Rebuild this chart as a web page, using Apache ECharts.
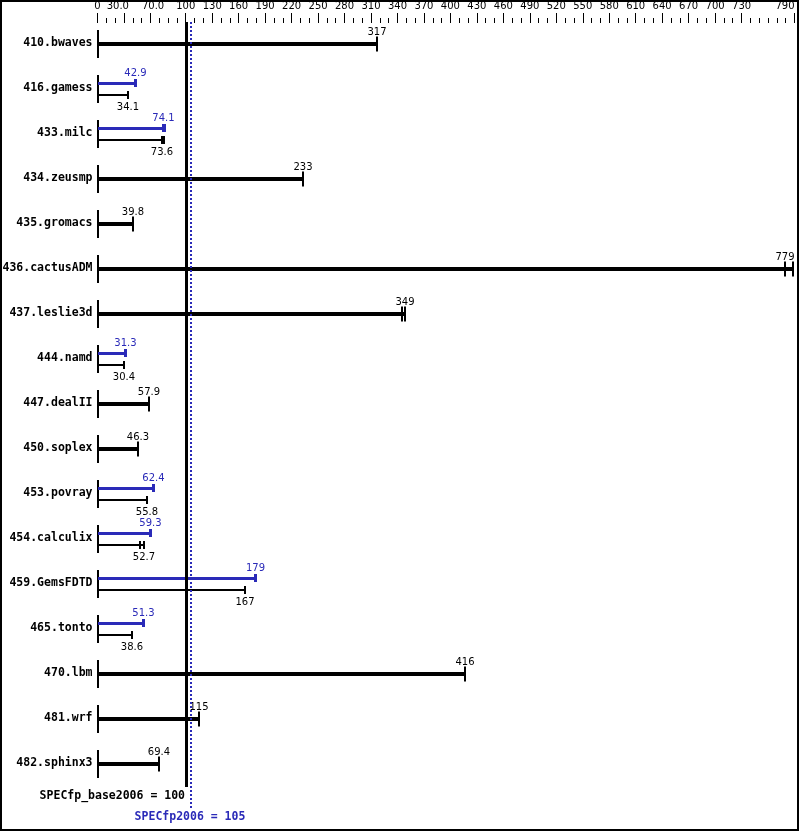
<!DOCTYPE html>
<html>
<head>
<meta charset="utf-8">
<script src="https://cdn.jsdelivr.net/npm/echarts@6/dist/echarts.min.js"></script>
<style>
html,body{margin:0;padding:0;background:#fff;}
#chart{width:799px;height:831px;}
</style>
</head>
<body>
<div id="chart"></div>
<script>
// ---- data ----
const categories = ['410.bwaves','416.gamess','433.milc','434.zeusmp','435.gromacs','436.cactusADM','437.leslie3d','444.namd','447.dealII','450.soplex','453.povray','454.calculix','459.GemsFDTD','465.tonto','470.lbm','481.wrf','482.sphinx3'];
const baseValues = [317, 34.1, 73.6, 233, 39.8, 779, 349, 30.4, 57.9, 46.3, 55.8, 52.7, 167, 38.6, 416, 115, 69.4];
const peakValues = [null, 42.9, 74.1, null, null, null, null, 31.3, null, null, 62.4, 59.3, 179, 51.3, null, null, null];
// other run results drawn as extra end ticks
const baseOtherRuns = [null, null, 75.9, null, null, 788, 345, null, null, null, null, 48.1, null, null, null, null, null];
const peakOtherRuns = [null, null, 76.6, null, null, null, null, null, null, null, null, null, null, null, null, null, null];
const baseScore = 100;
const peakScore = 105;
const tallTickValues = [0,30,60,100,130,160,190,220,250,280,310,340,370,400,430,460,490,520,550,580,610,640,670,700,730,790];
const tickLabelValues = [0,23,63,100,130,160,190,220,250,280,310,340,370,400,430,460,490,520,550,580,610,640,670,700,730,790];
const tickLabelTexts  = ['0','30.0','70.0','100','130','160','190','220','250','280','310','340','370','400','430','460','490','520','550','580','610','640','670','700','730','790'];

const BLACK = '#000000';
const BLUE = '#2a2ab8';
const valueFont = 'DejaVu Sans';
const monoFont = 'DejaVu Sans Mono';

function fmt(v){ return String(v); }

function renderRow(params, api) {
  const i = params.dataIndex;
  const base = baseValues[i];
  const peak = peakValues[i];
  const p0 = api.coord([0, i]);
  const x0 = Math.round(p0[0]);
  const cy = Math.round(p0[1]);
  const xOf = v => Math.round(api.coord([v, i])[0]);
  const kids = [];
  kids.push({type:'line', shape:{x1:x0, y1:cy-14, x2:x0, y2:cy+14}, style:{stroke:BLACK, lineWidth:2}});
  function bar(v, other, y, color, lw, capW, capHalf, labelY) {
    const xv = xOf(v) + (capW % 2 ? 0.5 : 0);
    let xe = xv;
    if (other != null) xe = Math.max(xv, xOf(other));
    const yy = y + (lw % 2 ? 0.5 : 0);
    kids.push({type:'line', shape:{x1:x0, y1:yy, x2:xe, y2:yy}, style:{stroke:color, lineWidth:lw}});
    kids.push({type:'line', shape:{x1:xv, y1:y-capHalf, x2:xv, y2:y+capHalf}, style:{stroke:color, lineWidth:capW}});
    if (other != null) {
      const xo = xOf(other);
      kids.push({type:'line', shape:{x1:xo, y1:y-capHalf, x2:xo, y2:y+capHalf}, style:{stroke:color, lineWidth:2}});
    }
    kids.push({type:'text', style:{text:fmt(v), x:xv, y:labelY, fill:color, font:'10px "'+valueFont+'"', align:'center', verticalAlign:'middle'}});
  }
  if (peak == null) {
    bar(base, baseOtherRuns[i], cy, BLACK, 4, 2, 7.5, cy-12);
  } else {
    bar(peak, peakOtherRuns[i], cy-6, BLUE, 3, 3, 4, cy-16);
    bar(base, baseOtherRuns[i], cy+6, BLACK, 2, 2, 4, cy+18);
  }
  return {type:'group', children:kids};
}

function renderScores(params, api) {
  const cs = params.coordSys;
  const top = cs.y, bottom = cs.y + cs.height;
  const xb = Math.round(api.coord([baseScore, 0])[0]);
  const xp = Math.round(api.coord([peakScore, 0])[0]);
  return {type:'group', children:[
    {type:'line', shape:{x1:xb+0.5, y1:top+1, x2:xb+0.5, y2:bottom+1}, style:{stroke:BLACK, lineWidth:3}},
    {type:'line', shape:{x1:xp+1, y1:top+1, x2:xp+1, y2:bottom+22}, style:{stroke:BLUE, lineWidth:2, lineDash:[2,2]}},
    {type:'text', style:{text:'SPECfp_base2006 = ' + baseScore, x:xb-1, y:bottom+10, fill:BLACK, font:'bold 11.5px "'+monoFont+'"', align:'right', verticalAlign:'middle'}},
    {type:'text', style:{text:'SPECfp2006 = ' + peakScore, x:xp, y:bottom+31, fill:BLUE, font:'bold 11.5px "'+monoFont+'"', align:'center', verticalAlign:'middle'}}
  ]};
}

const chart = echarts.init(document.getElementById('chart'), null, {renderer:'canvas'});
chart.setOption({
  backgroundColor:'#ffffff',
  animation:false,
  grid:{left:97.5, right:4.5, top:21, height:765, containLabel:false, outerBoundsMode:'none'},
  xAxis:[
    {type:'value', position:'top', min:0, max:790, interval:10, offset:-2,
     axisLine:{show:false}, splitLine:{show:false},
     axisTick:{show:true, length:5, lineStyle:{color:BLACK, width:1}},
     axisLabel:{show:false}},
    {type:'value', position:'top', min:0, max:790, interval:10, offset:-2,
     axisLine:{show:false}, splitLine:{show:false},
     axisTick:{show:true, length:10, customValues:tallTickValues, lineStyle:{color:BLACK, width:1}},
     axisLabel:{show:true, customValues:tickLabelValues, margin:12, color:BLACK, fontFamily:valueFont, fontSize:10,
       alignMaxLabel:'right',
       formatter: v => { const k = tickLabelValues.indexOf(v); return k >= 0 ? tickLabelTexts[k] : ''; }}}
  ],
  yAxis:{type:'category', data:categories, inverse:true,
    axisLine:{show:false}, axisTick:{show:false}, splitLine:{show:false},
    axisLabel:{margin:5, color:BLACK, fontFamily:monoFont, fontWeight:'bold', fontSize:11.5}},
  series:[
    {type:'custom', xAxisIndex:0, clip:false, z:2, renderItem:renderRow,
     data: categories.map((c, i) => [baseValues[i], i]), encode:{x:0, y:1}},
    {type:'custom', xAxisIndex:0, clip:false, z:3, renderItem:renderScores,
     data:[[baseScore, 0]], encode:{x:0, y:1}}
  ],
  graphic:[{type:'rect', shape:{x:1, y:1, width:797, height:829}, style:{fill:null, stroke:BLACK, lineWidth:2}, z:100}]
});
</script>
</body>
</html>
